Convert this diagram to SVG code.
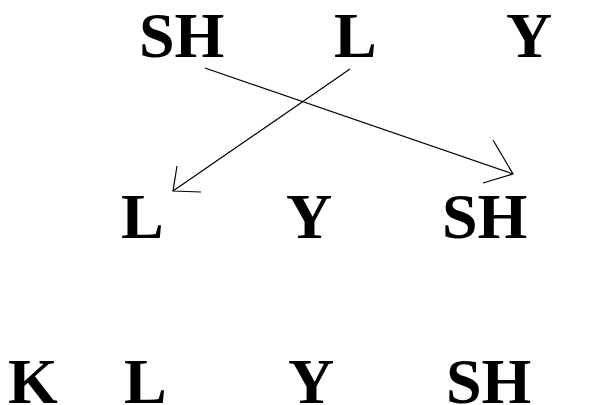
<svg xmlns="http://www.w3.org/2000/svg" width="595" height="405" viewBox="0 0 595 405">
<style>
text{font-family:"Liberation Serif","Times New Roman",serif;font-weight:bold;font-size:64px;fill:#000}
.c{fill:none;stroke:#000;stroke-width:1.2}
</style>
<rect width="595" height="405" fill="#fff"/>
<g id="r1-SH"><text x="139" y="57">SH</text></g>
<g id="r1-L"><text x="334" y="57">L</text></g>
<g id="r1-Y"><text x="506" y="57">Y</text></g>
<g id="r2-L"><text x="121" y="238">L</text></g>
<g id="r2-Y"><text x="286" y="238">Y</text></g>
<g id="r2-SH"><text x="442" y="238">SH</text></g>
<g id="r3-K"><text x="8" y="403">K</text></g>
<g id="r3-L"><text x="124" y="403">L</text></g>
<g id="r3-Y"><text x="288" y="403">Y</text></g>
<g id="r3-SH"><text x="446" y="403">SH</text></g>
<g id="connectors">
<line class="c" x1="205" y1="68" x2="513" y2="174"/>
<polyline class="c" points="493,140 513,174 483,183"/>
<line class="c" x1="350" y1="69" x2="173" y2="191"/>
<polyline class="c" points="177,166 173,191 201,192"/>
</g>
</svg>
